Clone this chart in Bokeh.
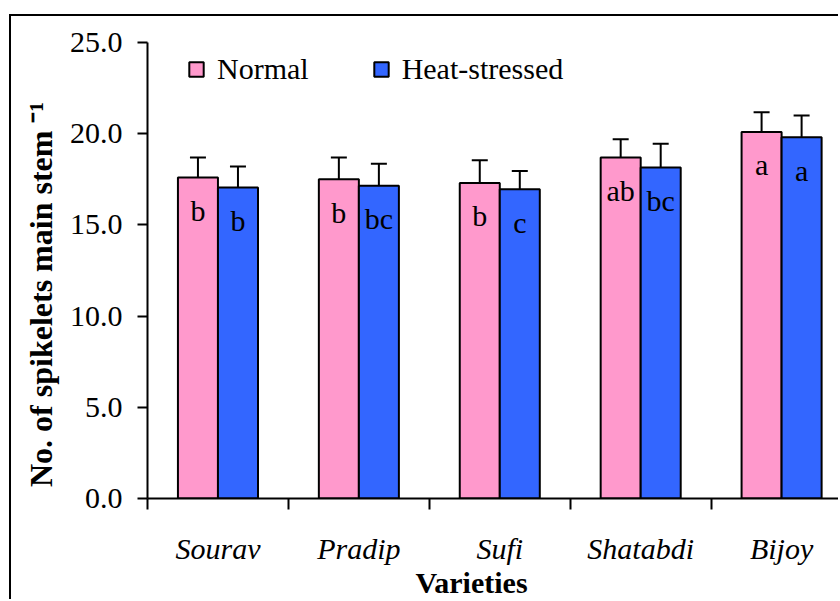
import math
from bokeh.plotting import figure
from bokeh.models import (ColumnDataSource, Range1d, FixedTicker, NumeralTickFormatter,
                          Legend, LegendItem, Whisker, TeeHead)
from bokeh.transform import dodge
from bokeh.core.properties import value
from bokeh.embed import file_html
from bokeh.resources import INLINE

# ---- data ----
varieties = ["Sourav", "Pradip", "Sufi", "Shatabdi", "Bijoy"]
normal = [17.6, 17.5, 17.3, 18.7, 20.1]
heat = [17.05, 17.15, 16.95, 18.15, 19.8]
normal_err = [1.1, 1.2, 1.25, 1.0, 1.08]
heat_err = [1.15, 1.2, 1.0, 1.3, 1.2]
normal_letters = ["b", "b", "b", "ab", "a"]
heat_letters = ["b", "bc", "c", "bc", "a"]
y_ticks = [0, 5, 10, 15, 20, 25]
y_title = "No. of spikelets main stem \u207b\u00b9"
x_title = "Varieties"

FONT = "Liberation Serif"
PINK = "#FF99CC"
BLUE = "#3366FF"
LAB_DROP = 1.8  # letters sit this far below bar top (data units)
NBSP = "\u00a0"

pos = [i + 0.5 for i in range(len(varieties))]
bounds = [float(i) for i in range(len(varieties) + 1)]

src = ColumnDataSource(dict(
    x=pos,
    normal=normal, heat=heat,
    normal_top=[v + e for v, e in zip(normal, normal_err)],
    heat_top=[v + e for v, e in zip(heat, heat_err)],
    normal_lab=[v - LAB_DROP for v in normal],
    heat_lab=[v - LAB_DROP for v in heat],
    normal_letters=normal_letters, heat_letters=heat_letters,
))

p = figure(width=829, height=585, output_backend="svg", toolbar_location=None,
           x_range=Range1d(0, 4.918), y_range=Range1d(0, 25),
           min_border_left=136, min_border_right=0, min_border_top=26,
           min_border_bottom=100)
p.styles = {"margin-top": "14px", "margin-left": "9px",
            "border-top": "2px solid black", "border-left": "2px solid black"}
p.outline_line_color = None
p.xgrid.grid_line_color = None
p.ygrid.grid_line_color = None
p.background_fill_color = "white"
p.border_fill_color = "white"

off = 0.142
bw = 0.284
r1 = p.vbar(x=dodge("x", -off), top="normal", bottom=0, width=bw, source=src,
            fill_color=PINK, line_color="black", line_width=2)
r2 = p.vbar(x=dodge("x", off), top="heat", bottom=0, width=bw, source=src,
            fill_color=BLUE, line_color="black", line_width=2)

for xo, lo, up in [(-off, "normal", "normal_top"), (off, "heat", "heat_top")]:
    w = Whisker(source=src, base=dodge("x", xo), lower=lo, upper=up,
                line_color="black", line_width=2, lower_head=None,
                upper_head=TeeHead(size=16, line_width=2, line_color="black"))
    p.add_layout(w)

p.text(x=dodge("x", -off), y="normal_lab", text="normal_letters", source=src,
       text_align="center", text_baseline="alphabetic",
       text_font=value(FONT), text_font_size="30px", text_color="black")
p.text(x=dodge("x", off), y="heat_lab", text="heat_letters", source=src,
       text_align="center", text_baseline="alphabetic",
       text_font=value(FONT), text_font_size="30px", text_color="black")

# y axis
ya = p.yaxis[0]
ya.ticker = FixedTicker(ticks=y_ticks)
ya.formatter = NumeralTickFormatter(format="0.0")
ya.major_tick_out = 10
ya.major_tick_in = 0
ya.minor_tick_out = 0
ya.minor_tick_in = 0
ya.axis_line_width = 2
ya.major_tick_line_width = 2
ya.major_label_text_font = FONT
ya.major_label_text_font_size = "30px"
ya.major_label_text_color = "black"
ya.major_label_standoff = 15
ya.axis_label = y_title + NBSP * 6
ya.axis_label_text_font = FONT
ya.axis_label_text_font_size = "32px"
ya.axis_label_text_font_style = "bold"
ya.axis_label_text_color = "black"
ya.axis_label_standoff = 8

# x axis
xa = p.xaxis[0]
xa.ticker = FixedTicker(ticks=pos, minor_ticks=bounds)
xa.major_label_overrides = {x: n for x, n in zip(pos, varieties)}
xa.major_tick_out = 0
xa.major_tick_in = 0
xa.minor_tick_out = 11
xa.minor_tick_in = 0
xa.minor_tick_line_width = 2
xa.minor_tick_line_color = "black"
xa.axis_line_width = 2
xa.major_label_text_font = FONT
xa.major_label_text_font_size = "30px"
xa.major_label_text_font_style = "italic"
xa.major_label_text_color = "black"
xa.major_label_standoff = 22
xa.axis_label = x_title + NBSP * 6
xa.axis_label_text_font = FONT
xa.axis_label_text_font_size = "30px"
xa.axis_label_text_font_style = "bold"
xa.axis_label_text_color = "black"
xa.axis_label_standoff = -2

legend = Legend(items=[LegendItem(label="Normal", renderers=[r1]),
                       LegendItem(label="Heat-stressed", renderers=[r2])],
                orientation="horizontal", location=(40, 412),
                glyph_width=18, glyph_height=18, label_standoff=12, spacing=63,
                padding=0, margin=0, border_line_color=None, background_fill_alpha=0,
                label_text_font=FONT, label_text_font_size="30px", label_text_color="black")
p.add_layout(legend)

open("out.html", "w").write(file_html(p, INLINE))
